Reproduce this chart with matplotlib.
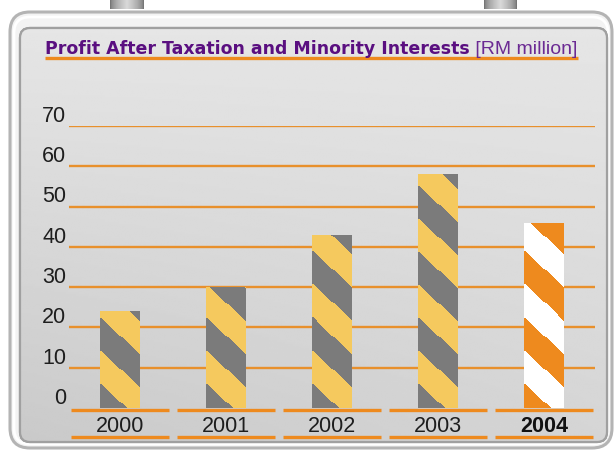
import numpy as np
import matplotlib
matplotlib.use("Agg")
import matplotlib.pyplot as plt
from matplotlib.patches import FancyBboxPatch
from matplotlib.colors import to_rgb
from matplotlib.transforms import ScaledTranslation

# ---- data ----
years = ["2000", "2001", "2002", "2003", "2004"]
values = [24, 30, 43, 58, 46]
yticks = [0, 10, 20, 30, 40, 50, 60, 70]
title_main = "Profit After Taxation and Minority Interests"
title_unit = " [RM million]"

# ---- style ----
YELLOW = "#F5C95E"
GREY = "#7B7B7B"
ORANGE = "#EE8A1E"
WHITE = "#FFFFFF"
LINE = "#E8902C"
PURPLE = "#5A0F80"
PURPLE2 = "#6B2A93"
TXT = "#1E1E1E"
FONT = ["Liberation Sans", "DejaVu Sans"]
TFONT = ["DejaVu Sans"]

W, H = 615, 451
fig = plt.figure(figsize=(W / 100, H / 100), dpi=100)
fig.patch.set_facecolor("white")

# ---- background frame (pixel coordinates) ----
bg = fig.add_axes([0, 0, 1, 1])
bg.set_xlim(0, W)
bg.set_ylim(H, 0)
bg.axis("off")

# hangers
for hx0, hx1 in [(110, 144), (484, 517)]:
    g = np.linspace(-1, 1, 40)
    shade = 0.45 + 0.4 * (1 - np.abs(g)) ** 0.6
    img = np.tile(shade, (10, 1))
    bg.imshow(img, cmap="gray", vmin=0, vmax=1, extent=(hx0, hx1, 9, 0),
              aspect="auto", zorder=1, interpolation="bilinear")

outer = FancyBboxPatch((10, 12), 602, 436,
                       boxstyle="round,pad=0,rounding_size=20",
                       facecolor="#F3F3F3", edgecolor="#B4B4B4", lw=2.2, zorder=2)
bg.add_patch(outer)
rim = FancyBboxPatch((14, 17), 594, 427,
                     boxstyle="round,pad=0,rounding_size=16",
                     facecolor="none", edgecolor="#FFFFFF", lw=2.0, zorder=3)
bg.add_patch(rim)
inner = FancyBboxPatch((20, 28), 587, 414,
                       boxstyle="round,pad=0,rounding_size=10",
                       facecolor="#DCDCDC", edgecolor="#9C9C9C", lw=1.6, zorder=4)
bg.add_patch(inner)
yy, xx = np.mgrid[0:1:200j, 0:1:300j]
grad = 0.90 - 0.065 * yy - 0.045 * (1 - xx) * yy
gimg = bg.imshow(grad, cmap="gray", vmin=0, vmax=1, extent=(20, 607, 442, 28),
                 aspect="auto", zorder=5, interpolation="bilinear")
gimg.set_clip_path(inner)
inner_edge = FancyBboxPatch((20, 28), 587, 414,
                            boxstyle="round,pad=0,rounding_size=10",
                            facecolor="none", edgecolor="#A0A0A0", lw=1.6, zorder=6)
bg.add_patch(inner_edge)
bg.set_xlim(0, W)
bg.set_ylim(H, 0)

# ---- title ----
t1 = bg.text(45, 54, title_main, fontsize=12.5, fontweight="bold", color=PURPLE,
             family=TFONT, ha="left", va="baseline", zorder=10)
fig.canvas.draw()
r = fig.canvas.get_renderer()
bb = t1.get_window_extent(r)
t2 = bg.text(bb.x1 * W / fig.bbox.width, 54, title_unit, fontsize=14, color=PURPLE2,
             family=FONT, ha="left", va="baseline", zorder=10)
fig.canvas.draw()
bb2 = t2.get_window_extent(r)
bg.plot([45, bb2.x1 * W / fig.bbox.width + 1], [57.5, 57.5], color=ORANGE, lw=2.4,
        solid_capstyle="butt", zorder=9)

# ---- chart axes ----
ax_left, ax_right, ax_top, ax_bot = 69, 595, 126, 408
ax = fig.add_axes([ax_left / W, 1 - ax_bot / H, (ax_right - ax_left) / W,
                   (ax_bot - ax_top) / H])
ax.patch.set_alpha(0)
for s in ax.spines.values():
    s.set_visible(False)

x = np.arange(len(years))
face = [YELLOW] * (len(years) - 1) + [WHITE]
bars = ax.bar(x, values, width=0.37, color=face, zorder=3, linewidth=0)
for v in yticks[1:]:
    ax.axhline(v, color=LINE, lw=1.7, zorder=1)
ax.set_xlim(-0.481, 4.481)
ax.set_ylim(0, 70)

# striped fill for each bar
fig.canvas.draw()
period, half, slope, offset = 66.0, 33.0, 0.95, 8.0
for i, b in enumerate(bars):
    c1 = to_rgb(YELLOW if i < len(bars) - 1 else WHITE)
    c2 = to_rgb(GREY if i < len(bars) - 1 else ORANGE)
    ext = b.get_window_extent(r)
    wpx = max(int(round(ext.width)), 1)
    hpx = max(int(round(ext.height)), 1)
    rows, cols = np.mgrid[0:hpx, 0:wpx]
    d = hpx - rows
    u = np.mod(d + slope * cols + offset, period)
    arr = np.where((u < half)[..., None], np.array(c2), np.array(c1))
    x0, y0 = b.get_x(), b.get_y()
    im = ax.imshow(arr, extent=(x0, x0 + b.get_width(), y0, y0 + b.get_height()),
                   aspect="auto", interpolation="nearest", zorder=4, origin="upper")
    im.set_clip_path(b)
ax.set_xlim(-0.481, 4.481)
ax.set_ylim(0, 70)

# ticks
ax.set_yticks(yticks)
ax.set_yticklabels([str(v) for v in yticks], fontsize=15.5, color=TXT, family=FONT,
                   va="baseline")
ax.tick_params(axis="y", length=0, pad=2)
shift = ScaledTranslation(0, 3 / 72, fig.dpi_scale_trans)
for lab in ax.get_yticklabels():
    lab.set_transform(lab.get_transform() + shift)

ax.set_xticks(x)
ax.set_xticklabels(years, fontsize=15.5, color=TXT, family=FONT)
ax.tick_params(axis="x", length=0, pad=6)
xl = ax.get_xticklabels()
xl[-1].set_fontweight("bold")
xl[-1].set_color("#111111")

# segmented underlines below categories
xt = ax.get_xaxis_transform()
for xi in x:
    for yv in (-1.8 / (ax_bot - ax_top), -28.5 / (ax_bot - ax_top)):
        ax.plot([xi - 0.462, xi + 0.462], [yv, yv], transform=xt, color=ORANGE,
                lw=2.4, solid_capstyle="butt", clip_on=False, zorder=5)

fig.savefig("out.png", dpi=100, facecolor="white")
